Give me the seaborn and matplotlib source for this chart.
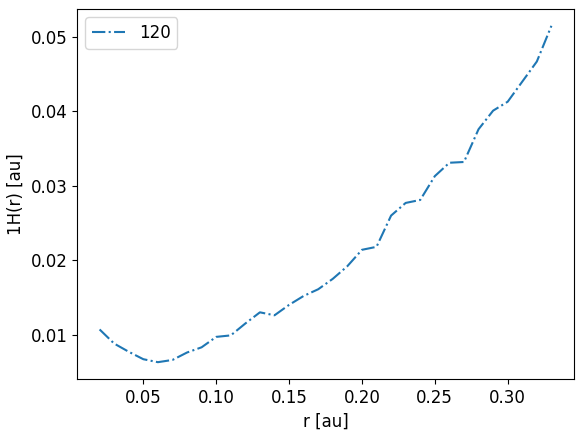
import numpy as np
import pandas as pd
import seaborn as sns
import matplotlib
matplotlib.use("Agg")
import matplotlib.pyplot as plt

# radius grid and 1H(r) values
r_vals = [0.02, 0.03, 0.04, 0.05, 0.06, 0.07, 0.08, 0.09, 0.10, 0.11,
          0.12, 0.13, 0.14, 0.15, 0.16, 0.17, 0.18, 0.19, 0.20, 0.21,
          0.22, 0.23, 0.24, 0.25, 0.26, 0.27, 0.28, 0.29, 0.30, 0.31,
          0.32, 0.33]
h_vals = [0.0107, 0.0088, 0.0077, 0.0067, 0.0063, 0.0066, 0.0076, 0.0083, 0.0097, 0.0099,
          0.0115, 0.0130, 0.0126, 0.0140, 0.0152, 0.0161, 0.0175, 0.0192, 0.0214, 0.0218,
          0.0260, 0.0277, 0.0281, 0.0313, 0.0331, 0.0332, 0.0376, 0.0401, 0.0413, 0.0440,
          0.0467, 0.0515]
series_label = "120"

plt.rcParams['font.size'] = 12

df = pd.DataFrame({"r": r_vals, "h": h_vals})

fig = plt.figure(figsize=(5.83, 4.34), dpi=100)
ax = fig.add_axes([77 / 583, 1 - 379 / 434, (574 - 77) / 583, (379 - 9) / 434])
sns.lineplot(data=df, x="r", y="h", ax=ax, label=series_label,
             linestyle="-.", color="#1f77b4", linewidth=1.5)
ax.set_xlabel("r [au]")
ax.set_ylabel("1H(r) [au]")
ax.legend(loc="upper left")

fig.savefig("out.png", dpi=100)
plt.close(fig)
